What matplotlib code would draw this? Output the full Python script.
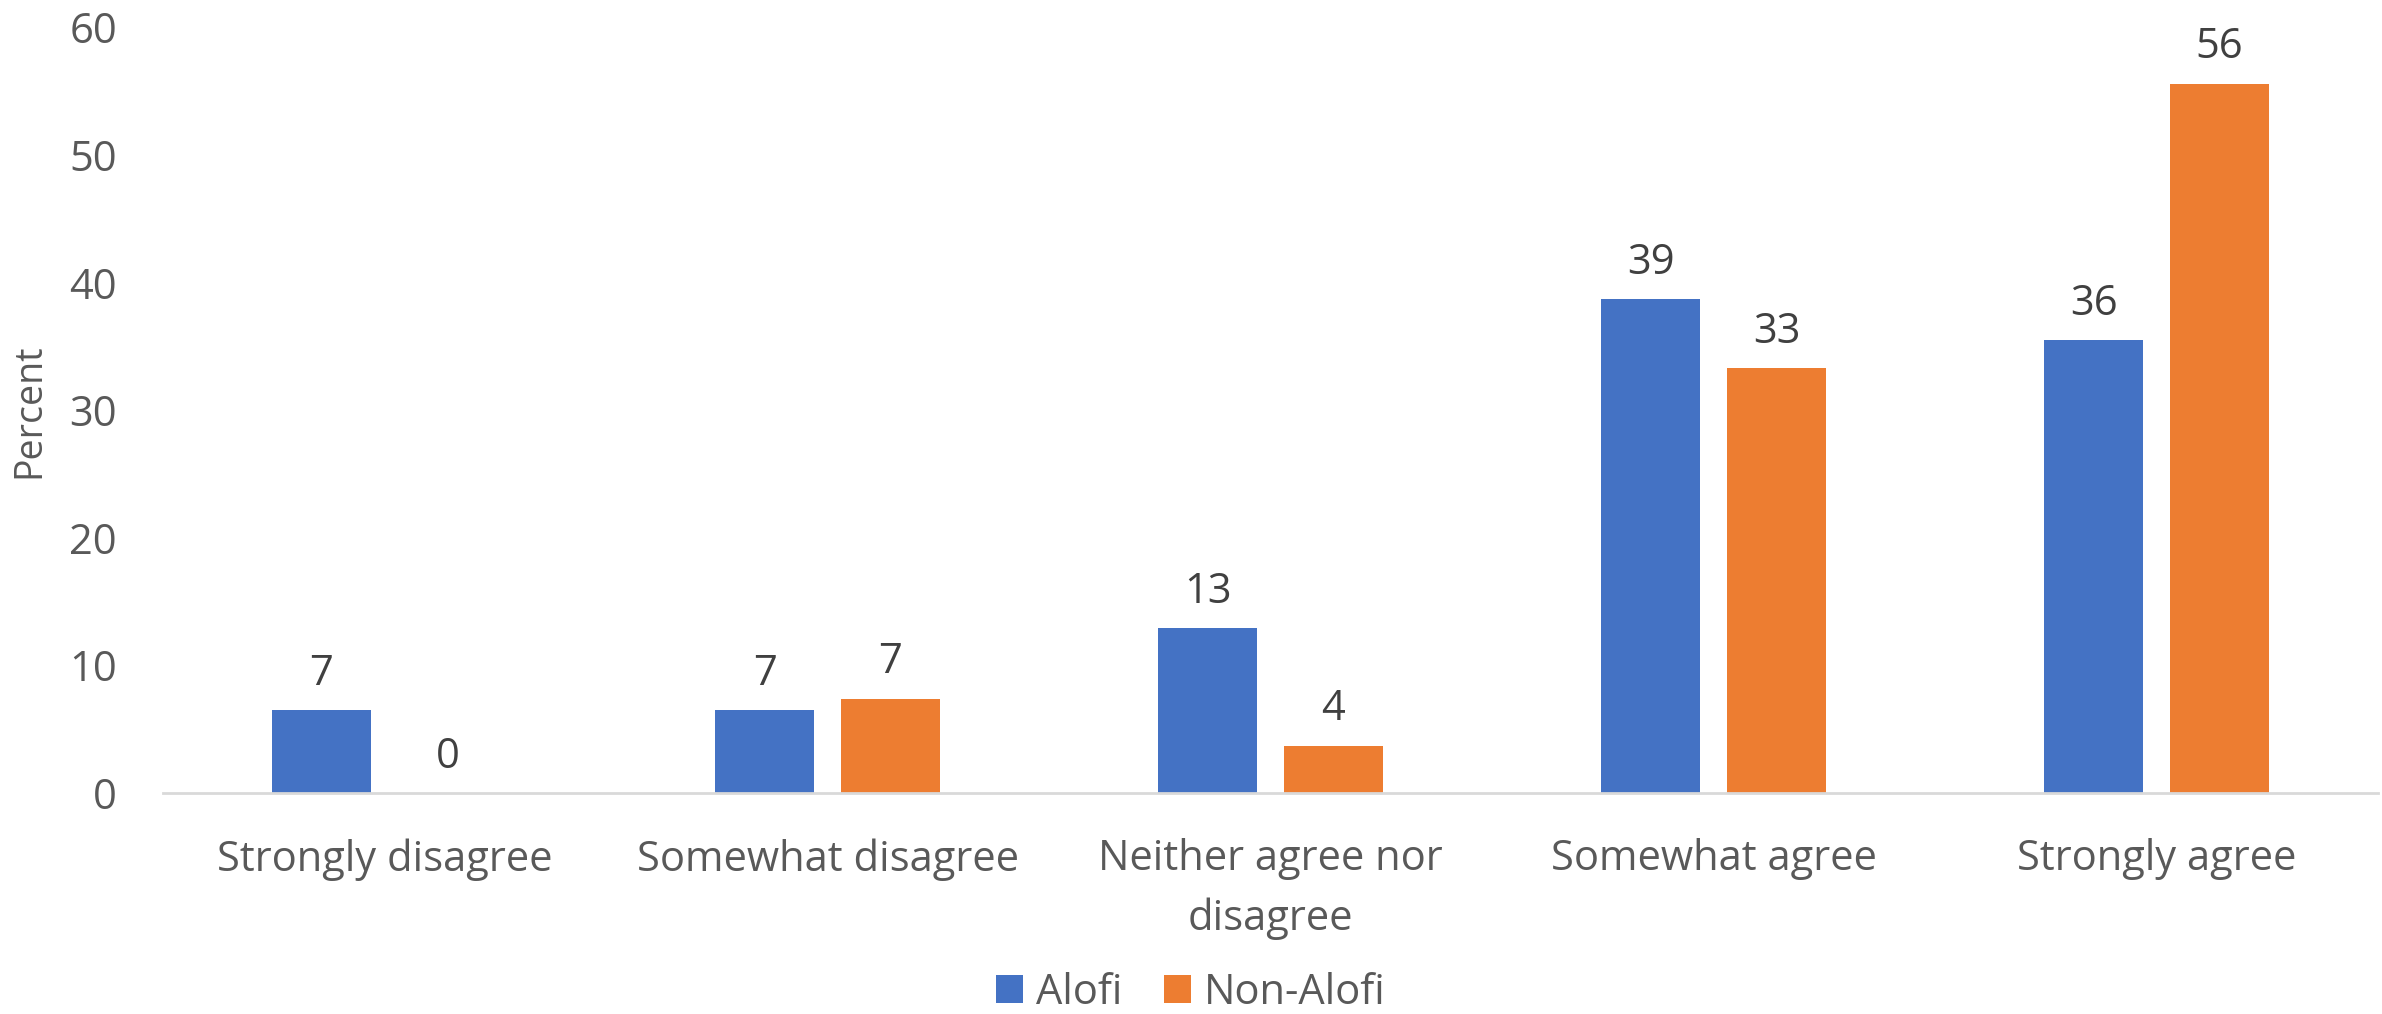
import numpy as np
import matplotlib.pyplot as plt

categories = ["Strongly disagree", "Somewhat disagree", "Neither agree nor\ndisagree",
              "Somewhat agree", "Strongly agree"]
alofi = [6.5, 6.5, 12.9, 38.7, 35.5]
non_alofi = [0.0, 7.4, 3.7, 33.3, 55.6]
alofi_labels = ["7", "7", "13", "39", "36"]
non_alofi_labels = ["0", "7", "4", "33", "56"]
yticks = [0, 10, 20, 30, 40, 50, 60]

blue = "#4472c4"
orange = "#ed7d31"
txt = "#595959"
font = "Open Sans"

fig = plt.figure(figsize=(23.82, 10.14), dpi=100)
ax = fig.add_axes([0.0684, 0.218, 0.93, 0.755])

x = np.arange(len(categories))
w = 0.223
off = 0.142
b1 = ax.bar(x - off, alofi, w, color=blue, label="Alofi")
b2 = ax.bar(x + off, non_alofi, w, color=orange, label="Non-Alofi")

for bars, labs in [(b1, alofi_labels), (b2, non_alofi_labels)]:
    for rect, lab in zip(bars, labs):
        ax.annotate(lab, (rect.get_x() + rect.get_width() / 2, rect.get_height()),
                    xytext=(0, 11), textcoords="offset points", ha="center", va="bottom",
                    fontsize=30, color="#404040", family=font)

ax.set_xlim(-0.5, len(categories) - 0.5)
ax.set_ylim(0, 60)
ax.set_yticks(yticks)
ax.set_xticks(x)
ax.tick_params(axis="x", labelbottom=False)
# category names drawn by hand so the first lines line up
for xi, cat in zip(x, categories):
    ax.text(xi, -0.059, cat, transform=ax.get_xaxis_transform(), ha="center", va="top",
            fontsize=30, color=txt, family=font, linespacing=1.53, multialignment="center")
for lab in ax.get_yticklabels():
    lab.set_fontsize(30)
    lab.set_color(txt)
    lab.set_family(font)
ax.tick_params(axis="both", length=0)
ax.tick_params(axis="y", pad=33)
for s in ["top", "right", "left"]:
    ax.spines[s].set_visible(False)
ax.spines["bottom"].set_color("#d9d9d9")
ax.spines["bottom"].set_linewidth(2)

fig.text(0.0122, 0.595, "Percent", rotation=90, fontsize=27, color=txt, family=font,
         ha="center", va="center")

leg = fig.legend(loc="center", bbox_to_anchor=(0.5, 0.021), ncol=2, frameon=False,
                 prop={"family": font, "size": 30}, handlelength=0.65, handleheight=0.65,
                 handletextpad=0.3, columnspacing=1.0, borderaxespad=0)
for t in leg.get_texts():
    t.set_color(txt)

fig.savefig("out.png", dpi=100)
